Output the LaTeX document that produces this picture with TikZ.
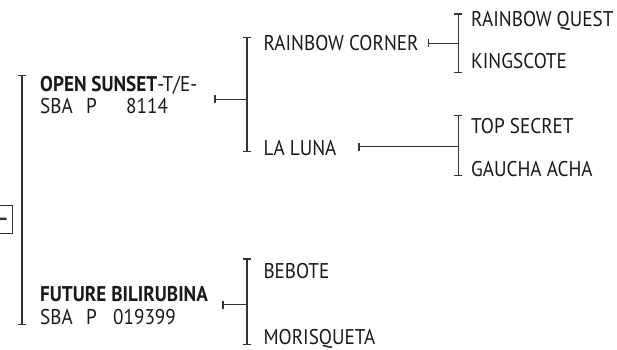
\documentclass[tikz,border=0pt]{standalone}
\usepackage{fontspec}
\setmainfont[FakeStretch=0.9]{PT Sans}
\usepackage{tikz}
\usetikzlibrary{arrows.meta}

\begin{document}
\begin{tikzpicture}[
  x=1pt, y=-1pt, font=\fontsize{21.3}{24}\selectfont, color=black!80,
  horse/.style={anchor=base west, inner sep=0pt, text depth=0pt, text=black!90},
  sire/.style={horse, font=\fontsize{21.3}{24}\selectfont\bfseries},
  brk/.style={line width=1.2pt, {Bar[width=8pt]}-{Bar[width=8pt]}},
  lnk/.style={line width=1.2pt, {Bar[width=8pt]}-}]
\useasboundingbox (0,0) rectangle (617,349);
% subject box, cut by the page edge
\node[draw, line width=1.2pt, minimum width=30pt, minimum height=28pt, inner sep=0pt] (subj) at (-2.3,219.2) {};
\node[inner sep=0pt, font=\fontsize{21.3}{24}\selectfont\bfseries] (subjtxt) at (2.4,221.7) {\textendash};
% generation 1
\node[sire] (os) at (40,91.7) {OPEN SUNSET{\mdseries-T/E-}};
\node[horse] (osreg) at (40,113.3) {\makebox[46pt][l]{SBA}\makebox[40pt][l]{P}8114};
\node[sire] (fb) at (40,301.7) {FUTURE BILIRUBINA};
\node[horse] (fbreg) at (40,324) {\makebox[46pt][l]{SBA}\makebox[27pt][l]{P}019399};
% generation 2
\node[horse] (rc) at (263.3,50) {RAINBOW CORNER};
\node[horse] (ll) at (263.3,155) {LA LUNA};
\node[horse] (be) at (263.3,278.3) {BEBOTE};
\node[horse] (mo) at (263.3,344.6) {MORISQUETA};
% generation 3
\node[horse] (rq) at (471,26.7) {RAINBOW QUEST};
\node[horse] (ks) at (471,68) {KINGSCOTE};
\node[horse] (ts) at (471,133.3) {TOP SECRET};
\node[horse] (ga) at (471,176.7) {GAUCHA ACHA};
% bracket ends and link starts
\coordinate (mainT) at (22,75);     \coordinate (mainB) at (22,325);
\coordinate (osT) at (247,36.7);    \coordinate (osB) at (247,151.7);
\coordinate (fbT) at (247,258.3);   \coordinate (fbB) at (247,345);
\coordinate (rcT) at (458.3,13.3);  \coordinate (rcB) at (458.3,72.7);
\coordinate (llT) at (458.3,115);   \coordinate (llB) at (458.3,176);
\coordinate (osO) at (214.3,99.3);  \coordinate (fbO) at (222.3,304.5);
\coordinate (rcO) at (428,43.3);    \coordinate (llO) at (358.3,146.7);
\draw[brk] (mainT) -- (mainB);
\draw[brk] (osT) -- (osB); \draw[brk] (fbT) -- (fbB);
\draw[brk] (rcT) -- (rcB); \draw[brk] (llT) -- (llB);
\draw[lnk] (osO) -- (osO -| osT); \draw[lnk] (fbO) -- (fbO -| fbT);
\draw[lnk] (rcO) -- (rcO -| rcT); \draw[lnk] (llO) -- (llO -| llT);
\end{tikzpicture}
\end{document}
